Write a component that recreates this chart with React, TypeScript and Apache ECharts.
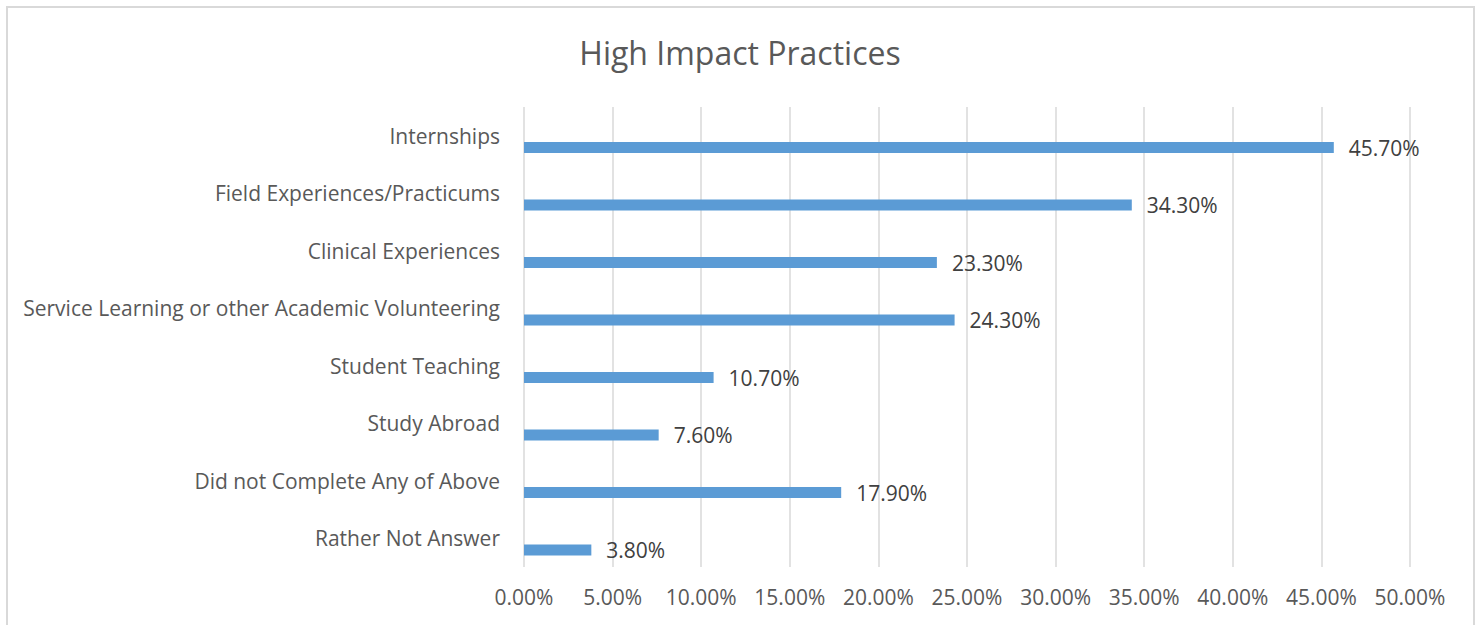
import React, { useEffect, useRef } from "react";
import * as echarts from "echarts";

const categories = [
  "Internships",
  "Field Experiences/Practicums",
  "Clinical Experiences",
  "Service Learning or other Academic Volunteering",
  "Student Teaching",
  "Study Abroad",
  "Did not Complete Any of Above",
  "Rather Not Answer",
];
const values = [45.7, 34.3, 23.3, 24.3, 10.7, 7.6, 17.9, 3.8];
const emptyValues = categories.map(() => null);
const titleText = "High Impact Practices";
const axisMin = 0;
const axisMax = 50;
const axisInterval = 5;

const FONT = "'Open Sans', sans-serif";

export default function App() {
  const ref = useRef<HTMLDivElement>(null);
  useEffect(() => {
    if (!ref.current) return;
    const chart = echarts.init(ref.current, null, { renderer: "svg" });
    chart.setOption({
      animation: false,
      backgroundColor: "transparent",
      textStyle: { fontFamily: FONT },
      title: {
        text: titleText,
        left: 735,
        textAlign: "center",
        top: 31,
        textStyle: { fontFamily: FONT, fontSize: 32, fontWeight: "normal", color: "#595959" },
      },
      grid: { left: 524, right: 68, top: 107, bottom: 58, containLabel: false },
      xAxis: {
        type: "value",
        min: axisMin,
        max: axisMax,
        interval: axisInterval,
        axisLine: { show: false },
        axisTick: { show: false },
        splitLine: { show: true, lineStyle: { color: "#d9d9d9", width: 1.5 } },
        axisLabel: {
          color: "#595959",
          fontSize: 21,
          fontFamily: FONT,
          margin: 19,
          formatter: (v: number) => v.toFixed(2) + "%",
        },
      },
      yAxis: {
        type: "category",
        inverse: true,
        data: categories,
        axisLine: { show: false },
        axisTick: { show: false },
        axisLabel: { color: "#595959", fontSize: 21, fontFamily: FONT, margin: 24 },
      },
      series: [
        {
          type: "bar",
          data: emptyValues,
          barWidth: 11,
          barGap: "114%",
          itemStyle: { color: "transparent" },
          silent: true,
        },
        {
          type: "bar",
          data: values,
          barWidth: 11,
          barGap: "114%",
          itemStyle: { color: "#5b9bd5" },
          label: {
            show: true,
            position: "right",
            distance: 15,
            color: "#404040",
            fontSize: 21,
            fontFamily: FONT,
            formatter: (p: any) => Number(p.value).toFixed(2) + "%",
          },
        },
      ],
    });
    return () => chart.dispose();
  }, []);
  return (
    <>
      <div
        style={{
          position: "absolute",
          left: 6,
          top: 6,
          width: 1469,
          height: 700,
          border: "2px solid #d9d9d9",
          boxSizing: "border-box",
        }}
      />
      <div ref={ref} style={{ position: "absolute", left: 0, top: 0, width: 1478, height: 625 }} />
    </>
  );
}
